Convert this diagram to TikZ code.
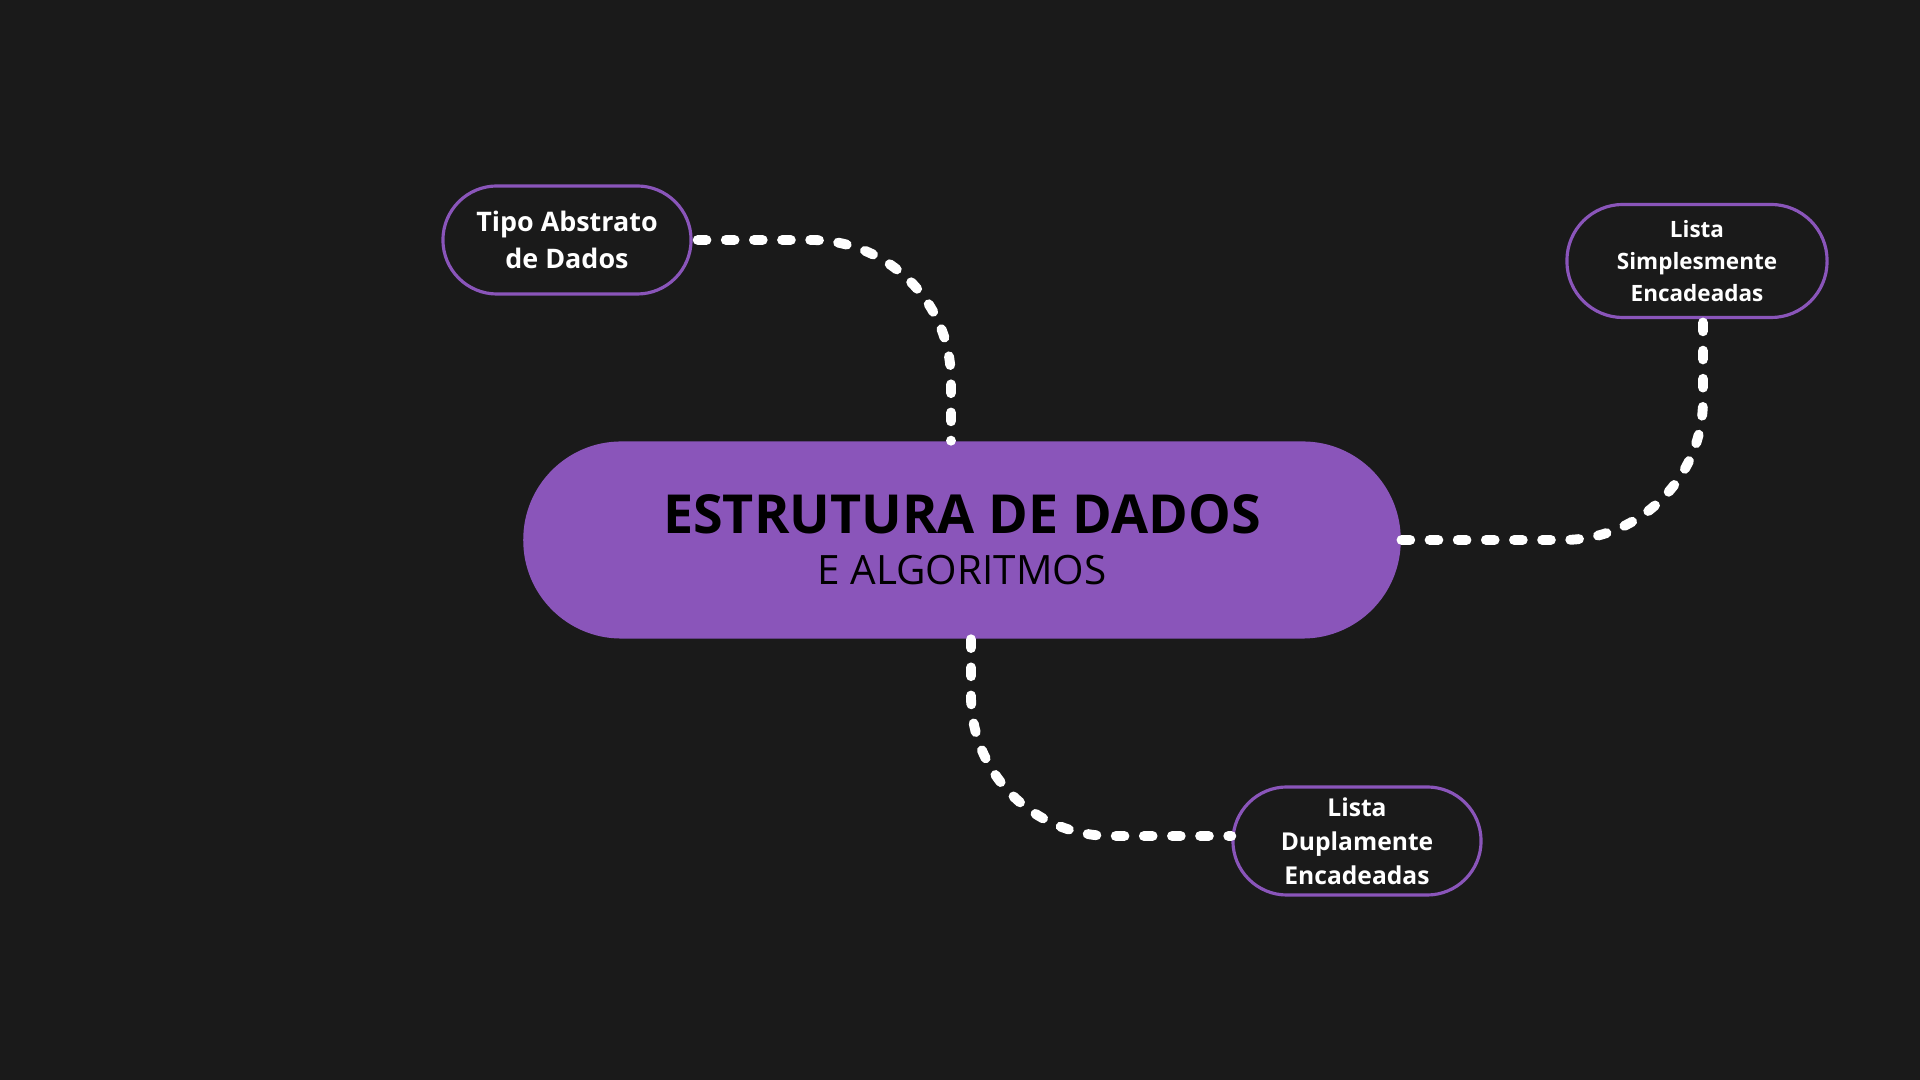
\documentclass[tikz,border=0pt]{standalone}
\usepackage{fontspec}
\setmainfont{Open Sans}
\usetikzlibrary{positioning}
\definecolor{fundo}{HTML}{1A1A1A}
\definecolor{roxo}{HTML}{8A55BA}

\begin{document}
\begin{tikzpicture}[x=0.01cm, y=-0.01cm,
        topico/.style={draw=roxo, line width=0.9pt, rounded corners=0.54cm,
            minimum width=2.48cm, minimum height=1.08cm, inner sep=0pt,
            align=center, text=white, font=\bfseries\fontsize{7.65}{10.6}\selectfont},
        ligacao/.style={white, line width=2.8pt, line cap=round,
            dash pattern=on 2.5pt off 5.5pt, rounded corners=1.4cm}]
    \fill[fundo] (0,0) rectangle (1920,1080);

    \node[fill=roxo, rounded corners=0.98cm, minimum width=8.77cm, minimum height=1.97cm,
        align=center, font=\fontsize{11.5}{14.6}\selectfont] (hub) at (962,540)
        {{\bfseries\fontsize{15.3}{17}\selectfont ESTRUTURA DE DADOS}\\E ALGORITMOS};
    \node[topico] (tad) at (567,240) {Tipo Abstrato\\de Dados};
    \node[topico, minimum width=2.6cm, minimum height=1.13cm, rounded corners=0.56cm,
        font=\bfseries\fontsize{6.4}{9.1}\selectfont] (lse) at (1697,261)
        {Lista\\Simplesmente\\Encadeadas};
    \node[topico, minimum width=2.48cm, font=\bfseries\fontsize{7}{9.7}\selectfont]
        (lde) at (1357,841) {Lista\\Duplamente\\Encadeadas};

    \draw[ligacao] ([xshift=0.05cm]tad.east) -| ([xshift=-0.11cm]hub.north);
    \draw[ligacao] (hub.east) -| ([xshift=0.06cm]lse.south);
    \draw[ligacao] ([xshift=0.09cm]hub.south) |- ([yshift=0.05cm]lde.west);
\end{tikzpicture}
\end{document}
